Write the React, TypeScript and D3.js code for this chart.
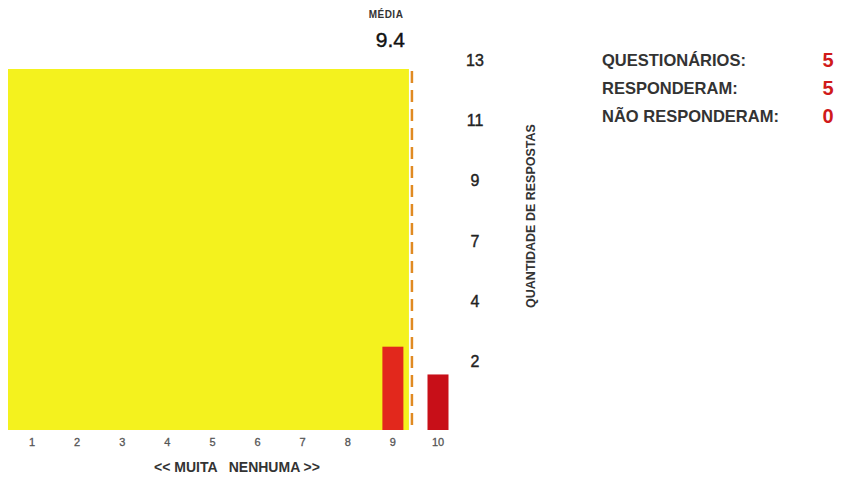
import * as d3 from "d3";
import React from "react";

// response scale and counts
const categories = [1, 2, 3, 4, 5, 6, 7, 8, 9, 10];
const counts = [0, 0, 0, 0, 0, 0, 0, 0, 3, 2];
const barColors = ["#d8221c", "#d8221c", "#d8221c", "#d8221c", "#d8221c", "#d8221c", "#d8221c", "#d8221c", "#e2281c", "#c80f18"];
const yMax = 13;
const yTickCount = 6;
const mean = 9.4;

const summaryLabels = ["QUESTIONÁRIOS:", "RESPONDERAM:", "NÃO RESPONDERAM:"];
const summaryValues = [5, 5, 0];

const font = "'Liberation Sans', Arial, sans-serif";

export default function App() {
  const width = 842;
  const height = 477;
  const margin = { top: 69, bottom: 47 };

  // x is linear so the mean line can sit between categories
  const x = d3.scaleLinear().domain([1, 10]).range([32, 438]);
  const y = d3.scaleLinear().domain([0, yMax]).range([height - margin.bottom, margin.top]);
  const barW = 21;

  const yTicks = d3.range(yTickCount, 0, -1).map((k) => (yMax * k) / yTickCount);

  return (
    <svg width={width} height={height} style={{ position: "absolute", left: 0, top: 0, background: "#fff" }}>
      {/* yellow field up to the mean */}
      <rect
        x={8}
        y={y(yMax)}
        width={x(mean) - 10}
        height={y(0) - y(yMax)}
        fill="#f4f21e"
      />
      {categories.map((c, i) =>
        counts[i] > 0 ? (
          <rect
            key={c}
            x={x(c) - barW / 2}
            y={y(counts[i])}
            width={barW}
            height={y(0) - y(counts[i])}
            fill={barColors[i]}
          />
        ) : null
      )}
      <line
        x1={x(mean) + 1}
        x2={x(mean) + 1}
        y1={y(yMax) + 2}
        y2={y(0)}
        stroke="#e08a22"
        strokeWidth={2.5}
        strokeDasharray="12,7"
      />
      {categories.map((c) => (
        <text key={c} x={x(c)} y={y(0) + 16} textAnchor="middle" fontFamily={font} fontSize={11} fill="#555" stroke="#555" strokeWidth={0.3}>
          {c}
        </text>
      ))}
      <text x={237} y={472} textAnchor="middle" fontFamily={font} fontSize={14} fontWeight="bold" fill="#333" style={{ whiteSpace: "pre" }}>
        {"<< MUITA   NENHUMA >>"}
      </text>

      {yTicks.map((t) => (
        <text key={t} x={475} y={y(t) - 3} textAnchor="middle" fontFamily={font} fontSize={16} fill="#222" stroke="#222" strokeWidth={0.4}>
          {Math.round(t)}
        </text>
      ))}
      <text
        transform={`translate(535,216) rotate(-90)`}
        textAnchor="middle"
        fontFamily={font}
        fontSize={12.5}
        fontWeight="bold"
        fill="#333"
      >
        QUANTIDADE DE RESPOSTAS
      </text>

      <text x={386} y={18} textAnchor="middle" fontFamily={font} fontSize={10} fontWeight="bold" fill="#333" letterSpacing={0.5}>
        MÉDIA
      </text>
      <text x={405} y={47} textAnchor="end" fontFamily={font} fontSize={21} fill="#111" stroke="#111" strokeWidth={0.4}>
        {mean.toFixed(1)}
      </text>

      {summaryLabels.map((l, i) => (
        <g key={l}>
          <text x={602} y={66 + i * 28} fontFamily={font} fontSize={16.5} fontWeight="bold" fill="#333">
            {l}
          </text>
          <text x={828} y={67 + i * 28} textAnchor="middle" fontFamily={font} fontSize={20} fontWeight="bold" fill="#d01a1a">
            {summaryValues[i]}
          </text>
        </g>
      ))}
    </svg>
  );
}
